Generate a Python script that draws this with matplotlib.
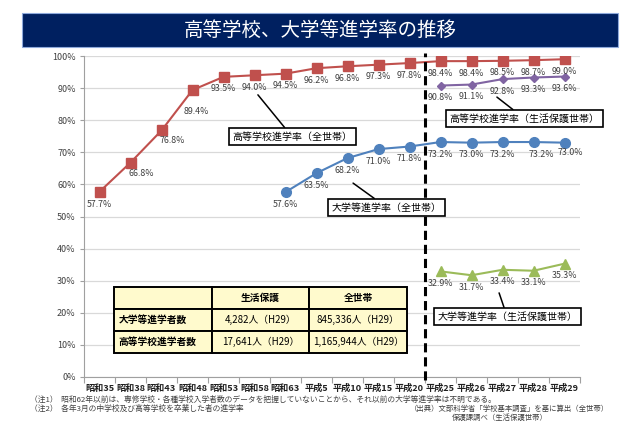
import matplotlib
matplotlib.use("Agg")
import matplotlib.pyplot as plt
from matplotlib.patches import Rectangle
import numpy as np

plt.rcParams['font.family'] = ['Noto Sans CJK JP', 'DejaVu Sans']

categories = ["昭和35", "昭和38", "昭和43", "昭和48", "昭和53", "昭和58", "昭和63",
              "平成5", "平成10", "平成15", "平成20", "平成25", "平成26", "平成27", "平成28", "平成29"]
hs_all = [57.7, 66.8, 76.8, 89.4, 93.5, 94.0, 94.5, 96.2, 96.8, 97.3, 97.8, 98.4, 98.4, 98.5, 98.7, 99.0]
uni_all = [None, None, None, None, None, None, 57.6, 63.5, 68.2, 71.0, 71.8, 73.2, 73.0, 73.2, 73.2, 73.0]
hs_welfare = [None] * 11 + [90.8, 91.1, 92.8, 93.3, 93.6]
uni_welfare = [None] * 11 + [32.9, 31.7, 33.4, 33.1, 35.3]

table_header = ["", "生活保護", "全世帯"]
table_rows = [["大学等進学者数", "4,282人（H29）", "845,336人（H29）"],
              ["高等学校進学者数", "17,641人（H29）", "1,165,944人（H29）"]]

title = "高等学校、大学等進学率の推移"
note1 = "（注1）  昭和62年以前は、専修学校・各種学校入学者数のデータを把握していないことから、それ以前の大学等進学率は不明である。"
note2 = "（注2）  各年3月の中学校及び高等学校を卒業した者の進学率"
source1 = "（出典）文部科学省「学校基本調査」を基に算出（全世帯）"
source2 = "保護課調べ（生活保護世帯）"

W, H = 640, 426
fig = plt.figure(figsize=(W / 100, H / 100), dpi=100)

def fx(px):
    return px / W

def fy(py):
    return 1 - py / H

# Title banner
fig.patches.append(Rectangle((fx(22), fy(47)), fx(618) - fx(22), fy(13) - fy(47),
                             transform=fig.transFigure, facecolor="#002060",
                             edgecolor="#8EA9DB", lw=0.8, zorder=0))
fig.text(0.5, fy(30), title, color="white", fontsize=14, ha="center", va="center")

ax = fig.add_axes([fx(84), fy(377), fx(580) - fx(84), fy(56) - fy(377)])
x = np.arange(len(categories))

def to_arr(v):
    return np.array([np.nan if a is None else a for a in v], dtype=float)

series = [
    (hs_all, "#C0504D", "s", 7),
    (uni_all, "#4F81BD", "o", 7),
    (hs_welfare, "#8064A2", "D", 4.5),
    (uni_welfare, "#9BBB59", "^", 7),
]
for vals, col, mk, ms in series:
    ax.plot(x, to_arr(vals), color=col, lw=1.5, marker=mk, markersize=ms, zorder=3)

label_font = dict(fontsize=6.4, color="#404040", ha="center", va="center")
hs_offsets = {0: (0, -13), 1: (11, -11), 2: (11, -10), 3: (4, -21)}
uni_offsets = {14: (8, -12), 15: (6, -10)}
for vals, offs in [(hs_all, hs_offsets), (uni_all, uni_offsets), (hs_welfare, {}), (uni_welfare, {})]:
    for i, v in enumerate(vals):
        if v is None:
            continue
        dx, dy = offs.get(i, (0, -12))
        ax.annotate(f"{v:.1f}%", (i, v), xytext=(dx, dy), textcoords="offset pixels", **label_font)

ax.set_xlim(-0.5, len(categories) - 0.5)
ax.set_ylim(0, 100)
ax.set_yticks(np.arange(0, 101, 10))
ax.set_yticklabels([f"{v}%" for v in range(0, 101, 10)], fontsize=6.5, color="#404040")
ax.set_xticks(x)
ax.set_xticklabels(categories, fontsize=6.6, fontweight="bold", color="#202020")
ax.set_xticks(np.arange(-0.5, len(categories), 1), minor=True)
ax.tick_params(axis="x", which="major", length=0, pad=5)
ax.tick_params(axis="x", which="minor", length=4, color="#A0A0A0", width=0.8)
ax.tick_params(axis="y", length=3, color="#A0A0A0", width=0.8, pad=3)
ax.grid(axis="y", color="#D9D9D9", lw=0.9)
ax.set_axisbelow(True)
for s in ["top", "right"]:
    ax.spines[s].set_visible(False)
for s in ["left", "bottom"]:
    ax.spines[s].set_color("#A0A0A0")
    ax.spines[s].set_linewidth(0.8)

ax.axvline(10.5, ymin=-0.01, ymax=1.01, color="black", lw=2.2, ls=(0, (3, 1.6)), clip_on=False, zorder=4)

# callouts
box = dict(boxstyle="square,pad=0.35", facecolor="white", edgecolor="black", lw=1.2)
callouts = [
    ("高等学校進学率（全世帯）", (6.21, 74.9), (5.11, 87.9)),
    ("高等学校進学率（生活保護世帯）", (13.71, 80.5), (12.82, 87.2)),
    ("大学等進学率（全世帯）", (9.27, 52.8), (8.18, 60.4)),
    ("大学等進学率（生活保護世帯）", (13.15, 18.8), (12.89, 26.2)),
]
for txt, tpos, ppos in callouts:
    ax.annotate(txt, xy=ppos, xytext=tpos, fontsize=7.2, color="black", ha="center", va="center",
                bbox=box, arrowprops=dict(arrowstyle="-", color="black", lw=1.1, shrinkA=0, shrinkB=0),
                zorder=5)

# table
cell_text = [table_header] + table_rows
tb = ax.table(cellText=cell_text, bbox=[(114 - 84) / 496, (377 - 353) / 321, (407 - 114) / 496, 66 / 321],
              cellLoc="center", zorder=6)
tb.auto_set_font_size(False)
for (r, c), cell in tb.get_celld().items():
    cell.set_facecolor("#FFFACD")
    cell.set_edgecolor("black")
    cell.set_linewidth(1.4)
    cell.get_text().set_fontsize(7)
    cell.get_text().set_fontweight("bold" if (r == 0 or c == 0) else "normal")
    if c == 0 and r > 0:
        cell.get_text().set_ha("left")
        cell.PAD = 0.05

# footnotes
foot = dict(color="#404040", va="center")
fig.text(fx(30), fy(400), note1, ha="left", fontsize=5.6, **foot)
fig.text(fx(30), fy(409), note2, ha="left", fontsize=5.6, **foot)
fig.text(fx(609), fy(409), source1, ha="right", fontsize=5.3, **foot)
fig.text(fx(452), fy(418), source2, ha="left", fontsize=5.3, **foot)

fig.savefig("out.png", dpi=100)
